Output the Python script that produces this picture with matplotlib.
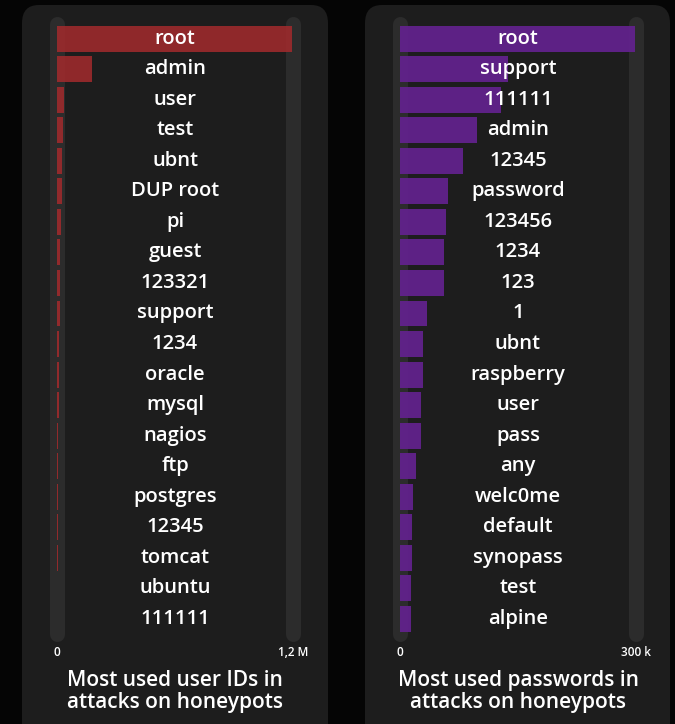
import matplotlib.pyplot as plt
from matplotlib.patches import FancyBboxPatch

# --- DATA ---
user_ids = ["root", "admin", "user", "test", "ubnt", "DUP root", "pi", "guest",
            "123321", "support", "1234", "oracle", "mysql", "nagios", "ftp",
            "postgres", "12345", "tomcat", "ubuntu", "111111"]
user_counts = [1195000, 176000, 34000, 29000, 27000, 25000, 19000, 17000,
               15000, 14000, 12000, 10000, 9000, 7000, 5000,
               4000, 3500, 3000, 2500, 2000]

passwords = ["root", "support", "111111", "admin", "12345", "password", "123456",
             "1234", "123", "1", "ubnt", "raspberry", "user", "pass", "any",
             "welc0me", "default", "synopass", "test", "alpine"]
password_counts = [299000, 137000, 129000, 97500, 80000, 60600, 58500,
                   56000, 56000, 34000, 29000, 29000, 27000, 27000, 20000,
                   16500, 15000, 15000, 14000, 14000]

user_max = 1200000
pass_max = 300000
user_ticks = ["0", "1,2 M"]
pass_ticks = ["0", "300 k"]
titles = ["Most used user IDs in\nattacks on honeypots",
          "Most used passwords in\nattacks on honeypots"]

W, H = 675, 724
plt.rcParams['font.family'] = ['Open Sans', 'DejaVu Sans']

fig = plt.figure(figsize=(W / 100, H / 100), dpi=100)
fig.patch.set_facecolor('#050505')


def px_box(x0, y0, x1, y1):
    # pixel box (top-left origin) -> figure fraction rect
    return [x0 / W, 1 - y1 / H, (x1 - x0) / W, (y1 - y0) / H]


# --- PANEL BACKGROUNDS ---
for x0, x1 in [(22, 328), (365, 670)]:
    panel = FancyBboxPatch((x0 / W, -20 / H), (x1 - x0) / W, (H + 20 - 5) / H,
                           boxstyle="round,pad=0,rounding_size=0.025",
                           transform=fig.transFigure, facecolor='#1d1d1d',
                           edgecolor='none', zorder=-5)
    fig.patches.append(panel)

panels = [
    (57, 293, user_ids, user_counts, user_max, user_ticks, '#9a2a2c', titles[0]),
    (400, 636, passwords, password_counts, pass_max, pass_ticks, '#63228f', titles[1]),
]

row_top, row_bot = 23.5, 634.0

for x0, x1, labels, counts, vmax, ticks, color, title in panels:
    ax = fig.add_axes(px_box(x0, row_top, x1, row_bot))
    ax.set_facecolor('none')
    n = len(labels)
    ypos = list(range(n))

    # rails at 0 and max
    rail_w = 15 * 72 / 100
    for xv in [0, vmax]:
        ax.plot([xv, xv], [0, 1], transform=ax.get_xaxis_transform(),
                color='#2c2c2c', lw=rail_w, solid_capstyle='round',
                clip_on=False, zorder=1)

    ax.barh(ypos, counts, height=0.85, color=color, alpha=0.92, zorder=2)

    for y, lab in zip(ypos, labels):
        ax.text(vmax / 2, y, lab, ha='center', va='center', color='white',
                fontsize=14.5, fontweight='semibold', zorder=3)

    ax.set_xlim(0, vmax)
    ax.set_ylim(n - 0.5, -0.5)
    ax.axis('off')

    # value ticks under rails (axes y=0 is the bottom)
    ax.text(0, -0.031, ticks[0], transform=ax.get_xaxis_transform(), ha='center',
            va='center', color='white', fontsize=8.5, fontweight='semibold')
    ax.text(vmax, -0.031, ticks[1], transform=ax.get_xaxis_transform(), ha='center',
            va='center', color='white', fontsize=8.5, fontweight='semibold')

    # panel title
    ax.text(vmax / 2, -0.094, title, transform=ax.get_xaxis_transform(),
            ha='center', va='center', color='white', fontsize=15,
            fontweight='semibold', linespacing=1.1)

fig.savefig('out.png', dpi=100, facecolor=fig.get_facecolor())
